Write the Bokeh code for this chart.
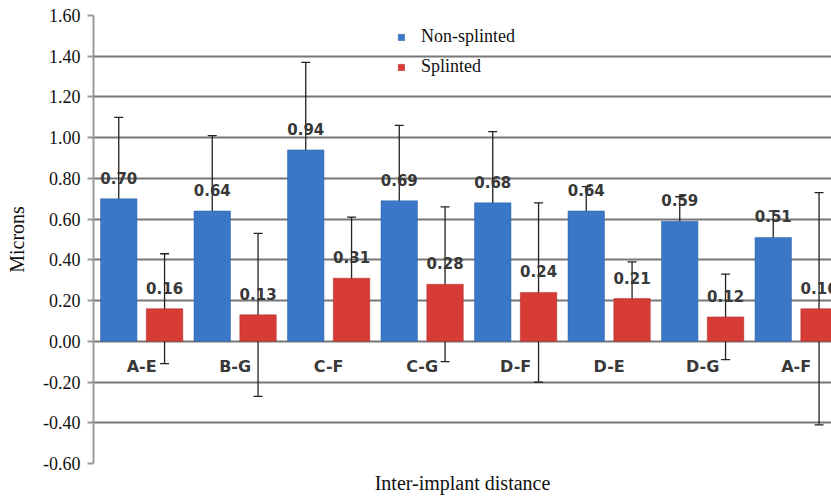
from bokeh.plotting import figure
from bokeh.models import (Range1d, ColumnDataSource, Whisker, TeeHead, FixedTicker,
                          NumeralTickFormatter, Legend, LegendItem)
from bokeh.core.properties import value
from bokeh.embed import file_html
from bokeh.resources import INLINE

categories = ["A-E", "B-G", "C-F", "C-G", "D-F", "D-E", "D-G", "A-F"]
non_splinted = [0.70, 0.64, 0.94, 0.69, 0.68, 0.64, 0.59, 0.51]
splinted = [0.16, 0.13, 0.31, 0.28, 0.24, 0.21, 0.12, 0.16]
non_splinted_sd = [0.40, 0.37, 0.43, 0.37, 0.35, 0.12, 0.12, 0.13]
splinted_sd = [0.27, 0.40, 0.30, 0.38, 0.44, 0.18, 0.21, 0.57]
y_ticks = [-0.6, -0.4, -0.2, 0.0, 0.2, 0.4, 0.6, 0.8, 1.0, 1.2, 1.4, 1.6]

BLUE = "#3a77c6"
RED = "#d63b36"
SERIF = "Liberation Serif"
SANS = "DejaVu Sans"

idx = list(range(len(categories)))
x_blue = [i + 0.27 for i in idx]
x_red = [i + 0.76 for i in idx]
x_cat = [i + 0.515 for i in idx]

src_b = ColumnDataSource(dict(
    x=x_blue, top=non_splinted,
    upper=[v + s for v, s in zip(non_splinted, non_splinted_sd)],
    lower=[v - s for v, s in zip(non_splinted, non_splinted_sd)],
    lab=["%.2f" % v for v in non_splinted]))
src_r = ColumnDataSource(dict(
    x=x_red, top=splinted,
    upper=[v + s for v, s in zip(splinted, splinted_sd)],
    lower=[v - s for v, s in zip(splinted, splinted_sd)],
    lab=["%.2f" % v for v in splinted]))
src_c = ColumnDataSource(dict(x=x_cat, y=[0.0] * len(categories), lab=categories))

p = figure(width=831, height=496, output_backend="svg", toolbar_location=None,
           x_range=Range1d(0, 738 / 93.5), y_range=Range1d(-0.6, 1.6),
           min_border_left=93, min_border_right=0, min_border_top=15,
           min_border_bottom=32)
p.outline_line_color = None

# y axis
yax = p.yaxis[0]
yax.ticker = FixedTicker(ticks=y_ticks)
yax.formatter = NumeralTickFormatter(format="0.00")
yax.major_label_text_font = SERIF
yax.major_label_text_font_style = "normal"
yax.major_label_text_font_size = "18px"
yax.major_label_text_color = "#111111"
yax.major_label_standoff = 7
yax.axis_label = "Microns"
yax.axis_label_text_font = SERIF
yax.axis_label_text_font_style = "normal"
yax.axis_label_text_font_size = "20px"
yax.axis_label_text_color = "#111111"
yax.axis_label_standoff = 12
yax.axis_line_color = "#999999"
yax.axis_line_width = 2
yax.major_tick_line_color = "#999999"
yax.major_tick_line_width = 2
yax.major_tick_out = 6
yax.major_tick_in = 0
yax.minor_tick_line_color = None

# x axis (title only)
xax = p.xaxis[0]
xax.ticker = FixedTicker(ticks=[])
xax.axis_label = "Inter-implant distance"
xax.axis_label_text_font = SERIF
xax.axis_label_text_font_style = "normal"
xax.axis_label_text_font_size = "20px"
xax.axis_label_text_color = "#111111"
xax.axis_line_color = None
xax.major_tick_line_color = None
xax.minor_tick_line_color = None
xax.major_label_text_font_size = "0px"
xax.axis_label_standoff = 8

p.xgrid.grid_line_color = None
p.ygrid.ticker = FixedTicker(ticks=y_ticks)
p.ygrid.grid_line_color = "#777777"
p.ygrid.grid_line_width = 2
p.ygrid.grid_line_alpha = 1.0

rb = p.vbar(x="x", top="top", bottom=0, width=0.39, source=src_b,
            fill_color=BLUE, line_color="#2e62a8", line_width=0.5)
rr = p.vbar(x="x", top="top", bottom=0, width=0.39, source=src_r,
            fill_color=RED, line_color="#b02c28", line_width=0.5)

for src in (src_b, src_r):
    w = Whisker(source=src, base="x", upper="upper", lower="lower",
                line_color="#222222", line_width=1.3,
                upper_head=TeeHead(size=9, line_color="#222222", line_width=1.3),
                lower_head=TeeHead(size=9, line_color="#222222", line_width=1.3))
    p.add_layout(w)

for src in (src_b, src_r):
    p.text(x="x", y="top", text="lab", source=src, y_offset=-21,
           text_align="center", text_baseline="middle",
           text_font=value(SANS), text_font_style="bold",
           text_font_size="15px", text_color="#383838")

p.text(x="x", y="y", text="lab", source=src_c, y_offset=25,
       text_align="center", text_baseline="middle",
       text_font=value(SANS), text_font_style="bold",
       text_font_size="16px", text_color="#383838")

legend = Legend(items=[LegendItem(label="Non-splinted", renderers=[rb]),
                       LegendItem(label="Splinted", renderers=[rr])],
                location=(304, 386))
legend.border_line_color = None
legend.background_fill_alpha = 0
legend.padding = 0
legend.margin = 0
legend.glyph_width = 8
legend.glyph_height = 8
legend.label_standoff = 16
legend.spacing = 9
legend.label_text_font = SERIF
legend.label_text_font_size = "18px"
legend.label_text_color = "#111111"
p.add_layout(legend, "center")

open("out.html", "w").write(file_html(p, INLINE))
